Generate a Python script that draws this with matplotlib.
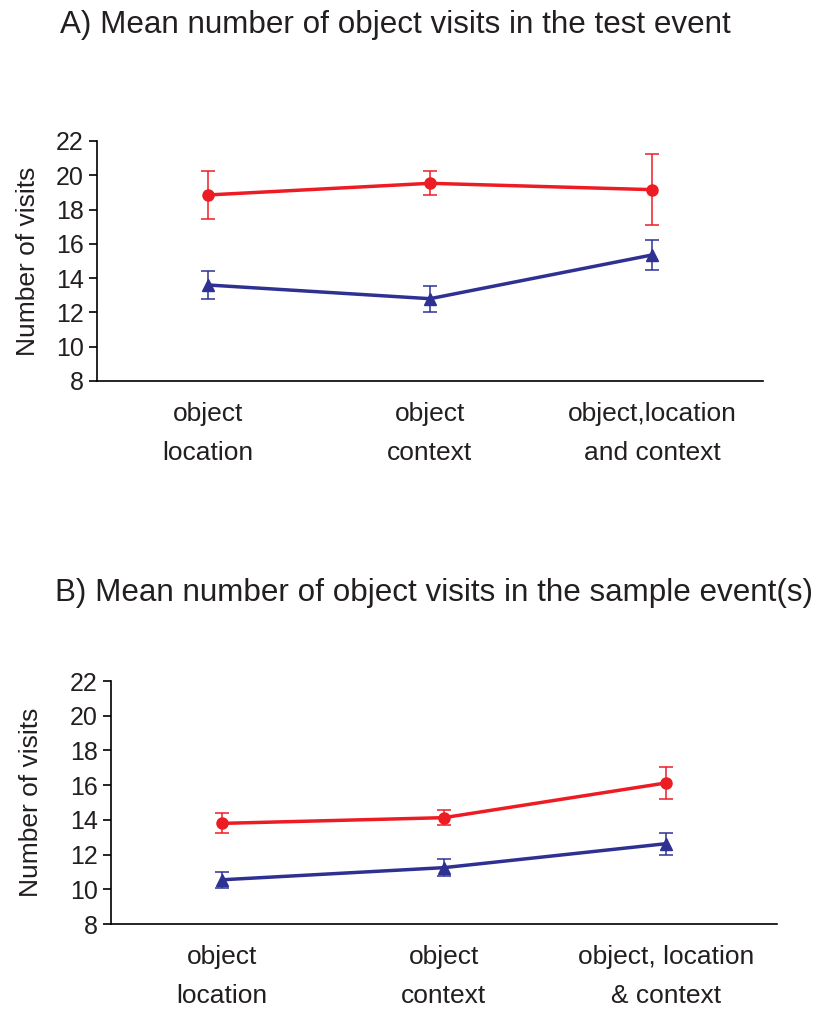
import matplotlib
matplotlib.use("Agg")
from matplotlib import pyplot as plt

plt.rcParams['font.family'] = ['Liberation Sans', 'DejaVu Sans']

# panel A: test event
test_labels = ["object\nlocation", "object\ncontext", "object,location\nand context"]
test_red = [18.85, 19.53, 19.16]
test_red_err = [1.42, 0.70, 2.08]
test_blue = [13.6, 12.8, 15.35]
test_blue_err = [0.80, 0.75, 0.85]

# panel B: sample event(s)
sample_labels = ["object\nlocation", "object\ncontext", "object, location\n& context"]
sample_red = [13.8, 14.13, 16.13]
sample_red_err = [0.57, 0.45, 0.90]
sample_blue = [10.55, 11.25, 12.63]
sample_blue_err = [0.47, 0.50, 0.63]

yticks = [8, 10, 12, 14, 16, 18, 20, 22]

RED = '#ED1C24'
BLUE = '#2E3192'
TXT = '#231F20'

fig = plt.figure(figsize=(8.19, 10.09), dpi=100)


def draw_panel(ax, labels, red, red_err, blue, blue_err, ylab_x):
    x = list(range(len(labels)))
    ax.errorbar(x, red, yerr=red_err, color=RED, lw=2.5, marker='o', ms=8,
                elinewidth=1.1, capsize=5, capthick=1.1)
    ax.errorbar(x, blue, yerr=blue_err, color=BLUE, lw=2.5, marker='^', ms=8,
                elinewidth=1.1, capsize=5, capthick=1.1)
    ax.set_xlim(-0.5, 2.5)
    ax.set_ylim(8, 22)
    ax.set_yticks(yticks)
    ax.set_xticks(x)
    ax.set_xticklabels(labels, fontsize=19, linespacing=1.8, color=TXT)
    ax.tick_params(axis='y', labelsize=18, labelcolor=TXT, direction='out', length=6, width=1.2)
    ax.tick_params(axis='x', length=0, pad=15)
    ax.spines['top'].set_visible(False)
    ax.spines['right'].set_visible(False)
    ax.spines['left'].set_linewidth(1.2)
    ax.spines['bottom'].set_linewidth(1.2)
    ax.set_ylabel("Number of visits", fontsize=19, color=TXT)
    ax.yaxis.set_label_coords(ylab_x, 0.5)


ax1 = fig.add_axes([0.1184, 0.6224, 0.8132, 0.2379])
draw_panel(ax1, test_labels, test_red, test_red_err, test_blue, test_blue_err, -0.086)

ax2 = fig.add_axes([0.1355, 0.0842, 0.8132, 0.2408])
draw_panel(ax2, sample_labels, sample_red, sample_red_err, sample_blue, sample_blue_err, -0.102)

fig.text(60 / 819, 1 - 25 / 1009, "A) Mean number of object visits in the test event",
         fontsize=22.6, va='center', ha='left', color=TXT)
fig.text(55 / 819, 1 - 593 / 1009, "B) Mean number of object visits in the sample event(s)",
         fontsize=22.6, va='center', ha='left', color=TXT)

fig.savefig("out.png", dpi=100)
